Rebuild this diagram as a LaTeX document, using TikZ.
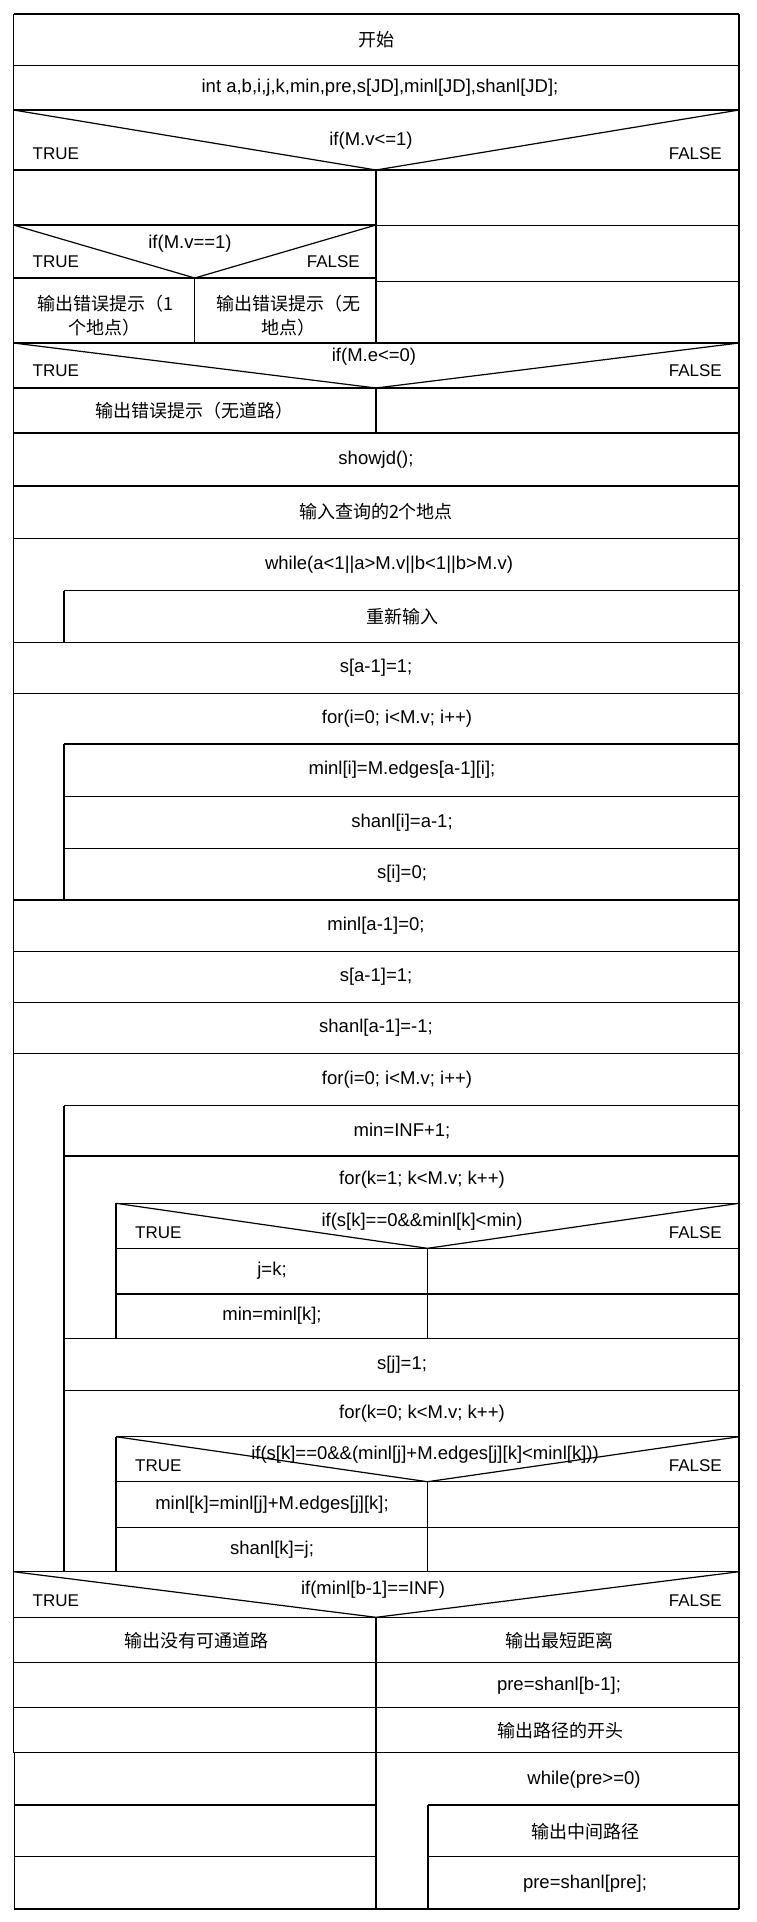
\documentclass[tikz,border=0pt]{standalone}
\usepackage{fontspec}
\setmainfont{Liberation Sans}
\newfontfamily\cjk{Noto Sans CJK SC}
\tikzset{
  ln/.style={line width=1.2pt, black},
  txt/.style={inner sep=0pt, align=center, font=\fontsize{18.5}{24}\selectfont},
  ctxt/.style={inner sep=0pt, align=center, font=\cjk\fontsize{18}{24}\selectfont},
  lbl/.style={inner sep=0pt, font=\fontsize{17}{20}\selectfont},
}
\begin{document}
\begin{tikzpicture}[x=1pt,y=-1pt]
\useasboundingbox (0,0) rectangle (757,1922);
% outer frame
\draw[ln] (13.5,14) -- (739,14);
\draw[ln] (13.5,14) -- (13.5,1752.7);
\draw[ln] (14.7,1752.7) -- (14.7,1909) -- (739,1909);
\draw[ln] (739,14) -- (739,1909);
% full width horizontal lines
\foreach \y in {65.7,110,170,343,388,486,538.3,642.3,693.3,900,951.7,1002.3,1053.3,1571.7,1617.3,1662.3,1707.7}
  \draw[ln] (13.5,\y) -- (739,\y);
\draw[ln] (13.5,1752.7) -- (739,1752.7);
\draw[line width=2.4pt] (13.5,433) -- (739,433);
% first if region
\draw[ln] (13.5,225) -- (376,225);
\draw[ln] (376,225.7) -- (739,225.7);
\draw[ln] (13.5,278) -- (376,278);
\draw[ln] (376,281.7) -- (739,281.7);
\draw[ln] (376,170) -- (376,343);
\draw[ln] (194.75,278) -- (194.75,343);
\draw[ln] (376,388) -- (376,433);
% diagonals
\draw[ln] (13.5,110) -- (376,170) -- (739,110);
\draw[ln] (13.5,225) -- (194.75,278) -- (376,225);
\draw[ln] (13.5,343) -- (376,388) -- (739,343);
\draw[ln] (116,1203.3) -- (427.5,1248.3) -- (739,1203.3);
\draw[ln] (116,1436.7) -- (427.5,1481.7) -- (739,1436.7);
\draw[ln] (13.5,1571.7) -- (376,1617.3) -- (739,1571.7);
% while loop 1
\draw[ln] (64,590.7) -- (739,590.7);
\draw[ln] (64,590.7) -- (64,642.3);
% for loop 1
\foreach \y in {744,796.7,848.3} \draw[ln] (64,\y) -- (739,\y);
\draw[ln] (64,744) -- (64,900);
% for loop 2
\foreach \y in {1105.7,1156,1338.3,1390.7} \draw[ln] (64,\y) -- (739,\y);
\draw[ln] (64,1105.7) -- (64,1571.7);
\foreach \y in {1203.3,1248.3,1294,1436.7,1481.7,1527.3} \draw[ln] (116,\y) -- (739,\y);
\draw[ln] (116,1203.3) -- (116,1338.3);
\draw[ln] (116,1436.7) -- (116,1571.7);
\draw[ln] (427.5,1248.3) -- (427.5,1338.3);
\draw[ln] (427.5,1481.7) -- (427.5,1571.7);
% bottom region
\draw[ln] (376,1617.3) -- (376,1909);
\draw[ln] (14.7,1805) -- (376,1805);
\draw[ln] (14.7,1856.7) -- (376,1856.7);
\draw[ln] (428,1805) -- (739,1805);
\draw[ln] (428,1856.7) -- (739,1856.7);
\draw[ln] (428,1805) -- (428,1909);
% texts
\node[ctxt] (t1) at (376,40) {开始};
\node[txt] (t2) at (380,88) {int a,b,i,j,k,min,pre,s[JD],minl[JD],shanl[JD];};
\node[txt] (c1) at (371,141) {if(M.v<=1)};
\node[lbl,anchor=west] (c1t) at (32.5,154) {TRUE};
\node[lbl,anchor=east] (c1f) at (722,154) {FALSE};
\node[txt] (c2) at (190,244) {if(M.v==1)};
\node[lbl,anchor=west] (c2t) at (32.5,262) {TRUE};
\node[lbl,anchor=east] (c2f) at (360,262) {FALSE};
\node[ctxt] (e1) at (105,316) {输出错误提示（1\\个地点）};
\node[ctxt] (e2) at (288,316) {输出错误提示（无\\地点）};
\node[txt] (c3) at (374,357) {if(M.e<=0)};
\node[lbl,anchor=west] (c3t) at (32.5,371) {TRUE};
\node[lbl,anchor=east] (c3f) at (722,371) {FALSE};
\node[ctxt] (e3) at (194,411) {输出错误提示（无道路）};
\node[txt] (t3) at (376,459.5) {showjd();};
\node[ctxt] (t4) at (376,512) {输入查询的2个地点};
\node[txt] (w1) at (389,564.5) {while(a<1||a>M.v||b<1||b>M.v)};
\node[ctxt] (w1b) at (402,616.5) {重新输入};
\node[txt] (t5) at (376,668) {s[a-1]=1;};
\node[txt] (f1) at (397,718.5) {for(i=0; i<M.v; i++)};
\node[txt] (f1a) at (402,770) {minl[i]=M.edges[a-1][i];};
\node[txt] (f1b) at (402,822.5) {shanl[i]=a-1;};
\node[txt] (f1c) at (402,874) {s[i]=0;};
\node[txt] (t6) at (376,926) {minl[a-1]=0;};
\node[txt] (t7) at (376,977) {s[a-1]=1;};
\node[txt] (t8) at (376,1028) {shanl[a-1]=-1;};
\node[txt] (f2) at (397,1079.5) {for(i=0; i<M.v; i++)};
\node[txt] (f2a) at (402,1131) {min=INF+1;};
\node[txt] (f3) at (422,1180) {for(k=1; k<M.v; k++)};
\node[txt] (c4) at (422,1221.7) {if(s[k]==0\&\&minl[k]<min)};
\node[lbl,anchor=west] (c4t) at (135,1232.7) {TRUE};
\node[lbl,anchor=east] (c4f) at (722,1232.7) {FALSE};
\node[txt] (c4a) at (272,1271) {j=k;};
\node[txt] (c4b) at (272,1316) {min=minl[k];};
\node[txt] (f2b) at (402,1364.5) {s[j]=1;};
\node[txt] (f4) at (422,1413.7) {for(k=0; k<M.v; k++)};
\node[txt] (c5) at (425,1455) {if(s[k]==0\&\&(minl[j]+M.edges[j][k]<minl[k]))};
\node[lbl,anchor=west] (c5t) at (135,1465.7) {TRUE};
\node[lbl,anchor=east] (c5f) at (722,1465.7) {FALSE};
\node[txt] (c5a) at (272,1504.5) {minl[k]=minl[j]+M.edges[j][k];};
\node[txt] (c5b) at (272,1549.5) {shanl[k]=j;};
\node[txt] (c6) at (373,1590) {if(minl[b-1]==INF)};
\node[lbl,anchor=west] (c6t) at (32.5,1601) {TRUE};
\node[lbl,anchor=east] (c6f) at (722,1601) {FALSE};
\node[ctxt] (n1) at (196,1641) {输出没有可通道路};
\node[ctxt] (y1) at (559,1641) {输出最短距离};
\node[txt] (y2) at (559,1686) {pre=shanl[b-1];};
\node[ctxt] (y3) at (560,1731) {输出路径的开头};
\node[txt] (w2) at (584,1780) {while(pre>=0)};
\node[ctxt] (w2a) at (585,1832) {输出中间路径};
\node[txt] (w2b) at (585,1884) {pre=shanl[pre];};
\end{tikzpicture}
\end{document}
